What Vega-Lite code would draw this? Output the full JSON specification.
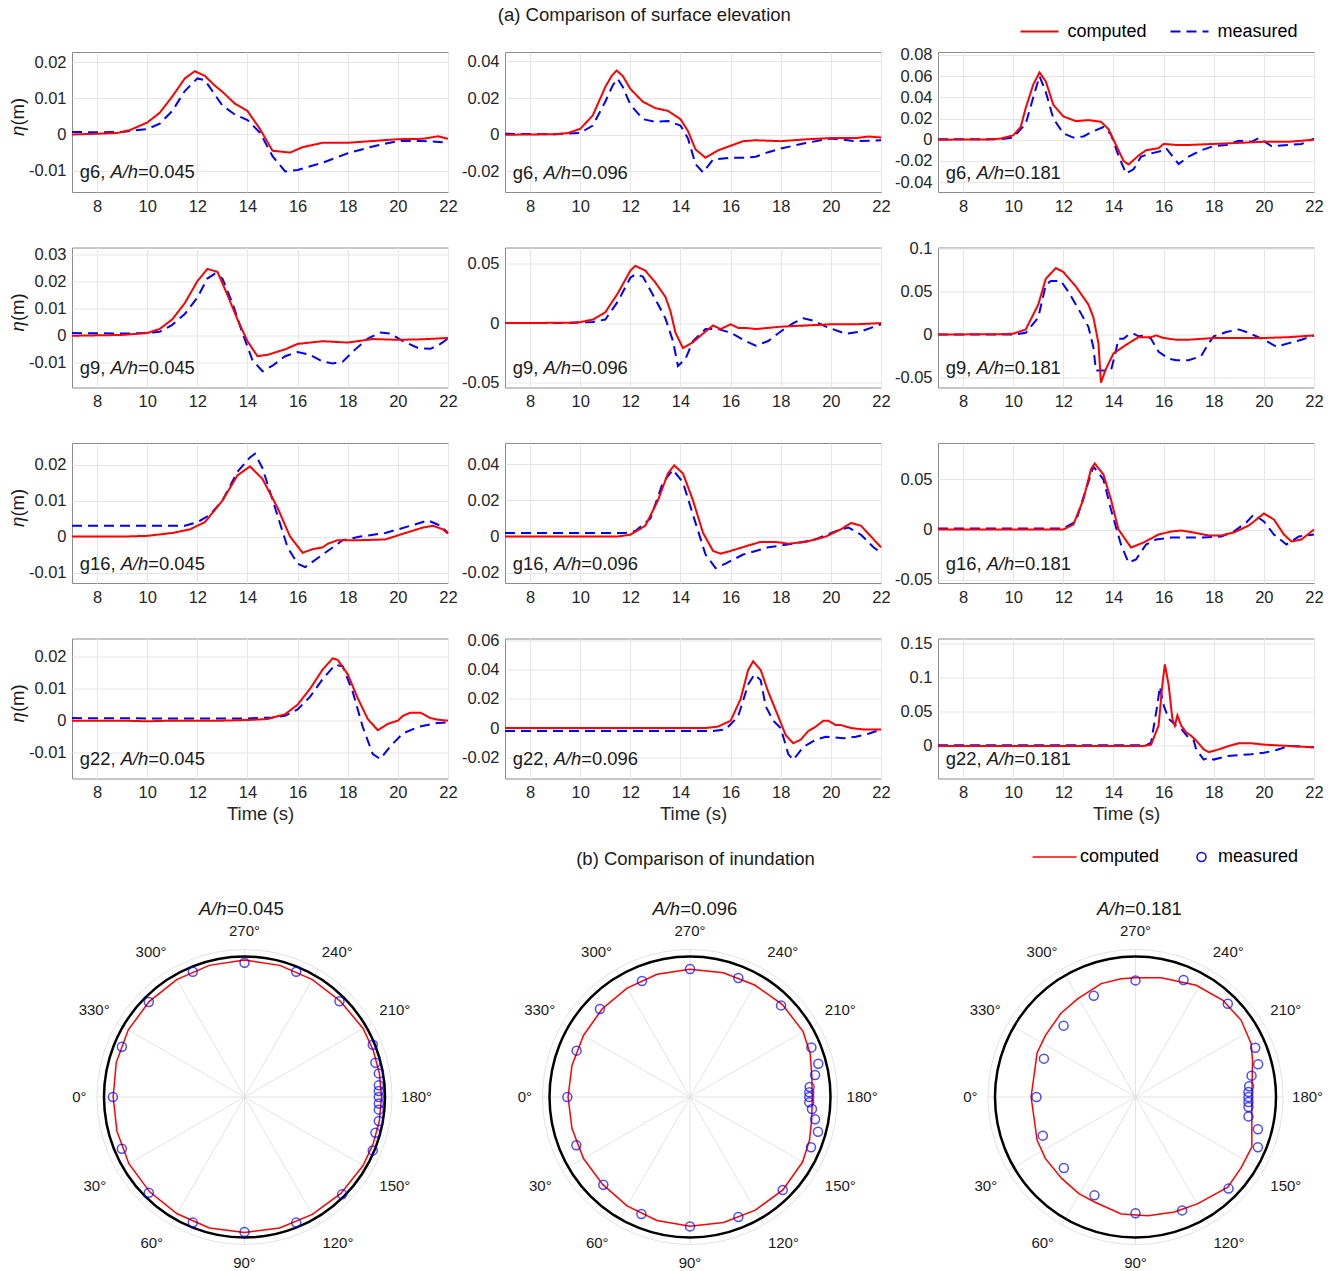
{
"$schema":"https://vega.github.io/schema/vega-lite/v6.json",
"padding":{"left":8,"top":5,"right":5,"bottom":0},
"background":"white",
"config":{
 "font":"Liberation Sans",
 "view":{"stroke":"#8c8c8c","strokeWidth":1},
 "axis":{"grid":true,"gridColor":"#e6e6e6","gridWidth":1,"domain":false,"ticks":false,"labelFontSize":16.5,"labelColor":"#262626","labelPadding":6,"labelFlush":false,"labelOverlap":false,"titleFontSize":18.5,"titleFontWeight":"normal","titleColor":"#262626","titlePadding":3},
 "text":{"color":"#1a1a1a"},
 "legend":{"labelFontSize":18,"labelColor":"#000000","padding":0}
},
"datasets":{
"p1c":[{"time":7,"eta":0},{"time":8,"eta":0.0002},{"time":8.8,"eta":0.0004},{"time":9.3,"eta":0.0012},{"time":10,"eta":0.0033},{"time":10.5,"eta":0.006},{"time":11,"eta":0.0105},{"time":11.5,"eta":0.0155},{"time":11.9,"eta":0.0175},{"time":12.3,"eta":0.0162},{"time":12.7,"eta":0.0135},{"time":13,"eta":0.0118},{"time":13.5,"eta":0.0085},{"time":14,"eta":0.0065},{"time":14.5,"eta":0.0015},{"time":15,"eta":-0.0045},{"time":15.7,"eta":-0.005},{"time":16.2,"eta":-0.0035},{"time":17,"eta":-0.0023},{"time":18,"eta":-0.0023},{"time":19,"eta":-0.0018},{"time":20,"eta":-0.0013},{"time":21,"eta":-0.0012},{"time":21.6,"eta":-0.0005},{"time":22,"eta":-0.0012}],
"p1m":[{"time":7,"eta":0.0007},{"time":8,"eta":0.0006},{"time":9,"eta":0.0007},{"time":10,"eta":0.0015},{"time":10.5,"eta":0.003},{"time":11,"eta":0.0065},{"time":11.5,"eta":0.012},{"time":12,"eta":0.0155},{"time":12.3,"eta":0.015},{"time":13,"eta":0.008},{"time":13.5,"eta":0.0055},{"time":14,"eta":0.004},{"time":14.5,"eta":0.0005},{"time":15,"eta":-0.006},{"time":15.5,"eta":-0.0102},{"time":16,"eta":-0.0098},{"time":17,"eta":-0.0078},{"time":18,"eta":-0.0052},{"time":19,"eta":-0.0033},{"time":20,"eta":-0.0018},{"time":21,"eta":-0.0018},{"time":22,"eta":-0.0022}],
"p2c":[{"time":7,"eta":0},{"time":9,"eta":0.0003},{"time":9.5,"eta":0.0009},{"time":10,"eta":0.0032},{"time":10.5,"eta":0.0105},{"time":11,"eta":0.026},{"time":11.25,"eta":0.032},{"time":11.45,"eta":0.035},{"time":11.7,"eta":0.032},{"time":12,"eta":0.025},{"time":12.5,"eta":0.018},{"time":13,"eta":0.0145},{"time":13.5,"eta":0.013},{"time":14,"eta":0.0085},{"time":14.3,"eta":0.002},{"time":14.6,"eta":-0.008},{"time":15,"eta":-0.0125},{"time":15.5,"eta":-0.0085},{"time":16,"eta":-0.006},{"time":16.5,"eta":-0.0035},{"time":17,"eta":-0.003},{"time":18,"eta":-0.0035},{"time":19,"eta":-0.0025},{"time":20,"eta":-0.0018},{"time":21,"eta":-0.0018},{"time":21.5,"eta":-0.001},{"time":22,"eta":-0.0015}],
"p2m":[{"time":7,"eta":0.0005},{"time":9,"eta":0.0003},{"time":10,"eta":0.001},{"time":10.5,"eta":0.005},{"time":11,"eta":0.018},{"time":11.3,"eta":0.027},{"time":11.5,"eta":0.0305},{"time":11.7,"eta":0.026},{"time":12,"eta":0.0165},{"time":12.5,"eta":0.0085},{"time":13,"eta":0.007},{"time":13.5,"eta":0.0075},{"time":14,"eta":0.005},{"time":14.3,"eta":-0.002},{"time":14.6,"eta":-0.016},{"time":14.9,"eta":-0.0205},{"time":15.3,"eta":-0.0135},{"time":16,"eta":-0.0125},{"time":16.5,"eta":-0.0125},{"time":17,"eta":-0.012},{"time":17.5,"eta":-0.0095},{"time":18,"eta":-0.0075},{"time":19,"eta":-0.0045},{"time":20,"eta":-0.002},{"time":21,"eta":-0.0035},{"time":22,"eta":-0.003}],
"p3c":[{"time":7,"eta":0},{"time":9,"eta":0.0002},{"time":9.5,"eta":0.001},{"time":10,"eta":0.004},{"time":10.3,"eta":0.012},{"time":10.5,"eta":0.03},{"time":10.8,"eta":0.052},{"time":11.05,"eta":0.0635},{"time":11.3,"eta":0.055},{"time":11.6,"eta":0.033},{"time":12,"eta":0.022},{"time":12.5,"eta":0.0175},{"time":13,"eta":0.0185},{"time":13.5,"eta":0.017},{"time":13.8,"eta":0.01},{"time":14.1,"eta":-0.005},{"time":14.4,"eta":-0.02},{"time":14.6,"eta":-0.0235},{"time":15,"eta":-0.015},{"time":15.3,"eta":-0.01},{"time":15.8,"eta":-0.008},{"time":16,"eta":-0.004},{"time":16.5,"eta":-0.005},{"time":17,"eta":-0.005},{"time":18,"eta":-0.004},{"time":19,"eta":-0.003},{"time":20,"eta":-0.002},{"time":21,"eta":-0.002},{"time":22,"eta":0}],
"p3m":[{"time":7,"eta":0.0003},{"time":9.5,"eta":0.0005},{"time":10,"eta":0.002},{"time":10.5,"eta":0.015},{"time":10.8,"eta":0.04},{"time":11.05,"eta":0.06},{"time":11.3,"eta":0.045},{"time":11.6,"eta":0.02},{"time":12,"eta":0.006},{"time":12.4,"eta":0.002},{"time":12.8,"eta":0.003},{"time":13.2,"eta":0.008},{"time":13.6,"eta":0.012},{"time":13.9,"eta":0.005},{"time":14.2,"eta":-0.015},{"time":14.5,"eta":-0.032},{"time":14.8,"eta":-0.028},{"time":15.1,"eta":-0.016},{"time":15.5,"eta":-0.013},{"time":16,"eta":-0.01},{"time":16.1,"eta":-0.008},{"time":16.6,"eta":-0.023},{"time":17,"eta":-0.016},{"time":17.5,"eta":-0.01},{"time":18,"eta":-0.006},{"time":18.5,"eta":-0.005},{"time":19,"eta":-0.001},{"time":19.5,"eta":-0.002},{"time":19.8,"eta":0.0015},{"time":20.3,"eta":-0.006},{"time":21,"eta":-0.005},{"time":21.5,"eta":-0.004},{"time":22,"eta":0.001}],
"p4c":[{"time":7,"eta":0},{"time":9,"eta":0.0003},{"time":10,"eta":0.001},{"time":10.5,"eta":0.0025},{"time":11,"eta":0.006},{"time":11.5,"eta":0.012},{"time":12,"eta":0.02},{"time":12.4,"eta":0.0245},{"time":12.6,"eta":0.024},{"time":12.8,"eta":0.0235},{"time":13.2,"eta":0.015},{"time":13.6,"eta":0.006},{"time":14,"eta":-0.002},{"time":14.4,"eta":-0.0075},{"time":14.8,"eta":-0.007},{"time":15.5,"eta":-0.005},{"time":16,"eta":-0.003},{"time":17,"eta":-0.002},{"time":18,"eta":-0.0025},{"time":19,"eta":-0.0012},{"time":20,"eta":-0.0015},{"time":21,"eta":-0.0013},{"time":22,"eta":-0.0008}],
"p4m":[{"time":7,"eta":0.001},{"time":9,"eta":0.0008},{"time":10,"eta":0.001},{"time":10.5,"eta":0.0015},{"time":11,"eta":0.004},{"time":11.5,"eta":0.008},{"time":12,"eta":0.014},{"time":12.4,"eta":0.021},{"time":12.7,"eta":0.0228},{"time":13,"eta":0.021},{"time":13.4,"eta":0.012},{"time":13.8,"eta":0.001},{"time":14.2,"eta":-0.009},{"time":14.6,"eta":-0.013},{"time":15,"eta":-0.011},{"time":15.5,"eta":-0.0075},{"time":16,"eta":-0.006},{"time":16.5,"eta":-0.007},{"time":17,"eta":-0.0095},{"time":17.4,"eta":-0.0102},{"time":17.8,"eta":-0.0095},{"time":18.3,"eta":-0.005},{"time":18.8,"eta":-0.001},{"time":19.3,"eta":0.0012},{"time":19.7,"eta":0.0008},{"time":20.2,"eta":-0.002},{"time":20.8,"eta":-0.0045},{"time":21.3,"eta":-0.0048},{"time":21.7,"eta":-0.003},{"time":22,"eta":-0.001}],
"p5c":[{"time":7,"eta":0},{"time":9.5,"eta":0.0003},{"time":10,"eta":0.0008},{"time":10.5,"eta":0.003},{"time":11,"eta":0.009},{"time":11.5,"eta":0.025},{"time":12,"eta":0.044},{"time":12.2,"eta":0.048},{"time":12.6,"eta":0.044},{"time":13,"eta":0.034},{"time":13.4,"eta":0.022},{"time":13.6,"eta":0.01},{"time":13.8,"eta":-0.008},{"time":14.1,"eta":-0.021},{"time":14.5,"eta":-0.016},{"time":15,"eta":-0.007},{"time":15.3,"eta":-0.002},{"time":15.6,"eta":-0.005},{"time":16,"eta":-0.001},{"time":16.3,"eta":-0.004},{"time":16.6,"eta":-0.004},{"time":17,"eta":-0.005},{"time":18,"eta":-0.003},{"time":19,"eta":-0.002},{"time":20,"eta":-0.001},{"time":21,"eta":-0.001},{"time":22,"eta":0}],
"p5m":[{"time":7,"eta":0},{"time":9.5,"eta":0},{"time":10,"eta":0.0005},{"time":10.5,"eta":0.001},{"time":11,"eta":0.003},{"time":11.5,"eta":0.018},{"time":12,"eta":0.038},{"time":12.2,"eta":0.041},{"time":12.5,"eta":0.039},{"time":13,"eta":0.02},{"time":13.4,"eta":0.004},{"time":13.7,"eta":-0.015},{"time":13.9,"eta":-0.036},{"time":14.2,"eta":-0.03},{"time":14.5,"eta":-0.015},{"time":15,"eta":-0.005},{"time":15.5,"eta":-0.005},{"time":16,"eta":-0.008},{"time":16.5,"eta":-0.014},{"time":17,"eta":-0.019},{"time":17.5,"eta":-0.015},{"time":18,"eta":-0.007},{"time":18.5,"eta":0},{"time":18.9,"eta":0.004},{"time":19.3,"eta":0.002},{"time":19.8,"eta":-0.003},{"time":20.6,"eta":-0.009},{"time":21.2,"eta":-0.007},{"time":22,"eta":-0.001}],
"p6c":[{"time":7,"eta":0},{"time":9.5,"eta":0.0005},{"time":10,"eta":0.001},{"time":10.5,"eta":0.006},{"time":11,"eta":0.035},{"time":11.3,"eta":0.065},{"time":11.7,"eta":0.0775},{"time":12,"eta":0.073},{"time":12.5,"eta":0.056},{"time":13,"eta":0.035},{"time":13.2,"eta":0.02},{"time":13.4,"eta":-0.01},{"time":13.5,"eta":-0.056},{"time":13.7,"eta":-0.04},{"time":14,"eta":-0.022},{"time":14.5,"eta":-0.012},{"time":15,"eta":-0.003},{"time":15.5,"eta":-0.003},{"time":15.7,"eta":-0.001},{"time":16,"eta":-0.004},{"time":16.5,"eta":-0.006},{"time":17,"eta":-0.006},{"time":18,"eta":-0.004},{"time":19,"eta":-0.004},{"time":20,"eta":-0.004},{"time":21,"eta":-0.003},{"time":21.5,"eta":-0.002},{"time":22,"eta":-0.001}],
"p6m":[{"time":7,"eta":0},{"time":10,"eta":0},{"time":10.5,"eta":0.002},{"time":11,"eta":0.02},{"time":11.3,"eta":0.058},{"time":11.5,"eta":0.0625},{"time":11.9,"eta":0.0625},{"time":12.2,"eta":0.05},{"time":12.6,"eta":0.03},{"time":13,"eta":0.009},{"time":13.2,"eta":-0.015},{"time":13.3,"eta":-0.042},{"time":13.9,"eta":-0.042},{"time":14.05,"eta":-0.025},{"time":14.2,"eta":-0.005},{"time":14.4,"eta":-0.005},{"time":14.6,"eta":0},{"time":14.8,"eta":0.001},{"time":15,"eta":-0.002},{"time":15.3,"eta":-0.001},{"time":15.5,"eta":-0.005},{"time":15.8,"eta":-0.02},{"time":16.2,"eta":-0.028},{"time":16.5,"eta":-0.03},{"time":17,"eta":-0.03},{"time":17.5,"eta":-0.025},{"time":17.8,"eta":-0.01},{"time":18,"eta":-0.002},{"time":18.5,"eta":0.003},{"time":19,"eta":0.006},{"time":19.4,"eta":0.002},{"time":20,"eta":-0.006},{"time":20.5,"eta":-0.014},{"time":21,"eta":-0.01},{"time":21.5,"eta":-0.006},{"time":22,"eta":-0.001}],
"p7c":[{"time":7,"eta":0},{"time":9,"eta":0},{"time":10,"eta":0.0002},{"time":11,"eta":0.001},{"time":11.7,"eta":0.002},{"time":12.3,"eta":0.004},{"time":13,"eta":0.01},{"time":13.6,"eta":0.017},{"time":14.1,"eta":0.0195},{"time":14.6,"eta":0.016},{"time":15.2,"eta":0.008},{"time":15.7,"eta":0},{"time":16.2,"eta":-0.0045},{"time":16.6,"eta":-0.0035},{"time":17,"eta":-0.003},{"time":17.2,"eta":-0.002},{"time":17.6,"eta":-0.001},{"time":18.5,"eta":-0.001},{"time":19.5,"eta":-0.0008},{"time":20.3,"eta":0.001},{"time":21,"eta":0.0025},{"time":21.4,"eta":0.003},{"time":21.8,"eta":0.002},{"time":22,"eta":0.0008}],
"p7m":[{"time":7,"eta":0.003},{"time":11.5,"eta":0.003},{"time":12,"eta":0.004},{"time":12.5,"eta":0.006},{"time":13,"eta":0.01},{"time":13.6,"eta":0.018},{"time":14.1,"eta":0.022},{"time":14.3,"eta":0.023},{"time":14.6,"eta":0.019},{"time":15.1,"eta":0.008},{"time":15.6,"eta":-0.003},{"time":16,"eta":-0.0075},{"time":16.3,"eta":-0.0085},{"time":17,"eta":-0.005},{"time":17.8,"eta":-0.001},{"time":18.5,"eta":0},{"time":19.5,"eta":0.001},{"time":20.5,"eta":0.003},{"time":21.2,"eta":0.0045},{"time":21.7,"eta":0.003},{"time":22,"eta":0.001}],
"p8c":[{"time":7,"eta":0},{"time":11.5,"eta":0},{"time":12,"eta":0.001},{"time":12.6,"eta":0.006},{"time":13.1,"eta":0.02},{"time":13.5,"eta":0.035},{"time":13.75,"eta":0.0395},{"time":14.1,"eta":0.035},{"time":14.5,"eta":0.02},{"time":14.9,"eta":0.002},{"time":15.3,"eta":-0.008},{"time":15.6,"eta":-0.0095},{"time":16,"eta":-0.008},{"time":16.7,"eta":-0.005},{"time":17.2,"eta":-0.003},{"time":17.8,"eta":-0.003},{"time":18.3,"eta":-0.004},{"time":19,"eta":-0.003},{"time":19.8,"eta":0},{"time":20.4,"eta":0.004},{"time":20.8,"eta":0.0075},{"time":21.2,"eta":0.006},{"time":21.6,"eta":0},{"time":22,"eta":-0.006}],
"p8m":[{"time":7,"eta":0.002},{"time":11.8,"eta":0.002},{"time":12.2,"eta":0.003},{"time":12.8,"eta":0.01},{"time":13.3,"eta":0.03},{"time":13.7,"eta":0.037},{"time":14.1,"eta":0.03},{"time":14.5,"eta":0.012},{"time":15,"eta":-0.01},{"time":15.4,"eta":-0.0175},{"time":15.8,"eta":-0.015},{"time":16.5,"eta":-0.01},{"time":17.5,"eta":-0.006},{"time":18.5,"eta":-0.004},{"time":19.3,"eta":-0.002},{"time":20.2,"eta":0.003},{"time":20.7,"eta":0.005},{"time":21.2,"eta":0.001},{"time":21.7,"eta":-0.006},{"time":22,"eta":-0.009}],
"p9c":[{"time":7,"eta":0},{"time":12,"eta":0},{"time":12.4,"eta":0.005},{"time":12.8,"eta":0.03},{"time":13.1,"eta":0.06},{"time":13.25,"eta":0.066},{"time":13.6,"eta":0.055},{"time":13.9,"eta":0.03},{"time":14.2,"eta":0},{"time":14.7,"eta":-0.018},{"time":15.2,"eta":-0.013},{"time":15.8,"eta":-0.005},{"time":16.3,"eta":-0.002},{"time":16.7,"eta":-0.001},{"time":17.2,"eta":-0.003},{"time":17.8,"eta":-0.006},{"time":18.3,"eta":-0.006},{"time":18.8,"eta":-0.003},{"time":19.4,"eta":0.004},{"time":19.8,"eta":0.012},{"time":20,"eta":0.016},{"time":20.4,"eta":0.01},{"time":20.8,"eta":-0.005},{"time":21.1,"eta":-0.012},{"time":21.5,"eta":-0.01},{"time":22,"eta":0}],
"p9m":[{"time":7,"eta":0.001},{"time":12,"eta":0.001},{"time":12.5,"eta":0.008},{"time":12.9,"eta":0.04},{"time":13.2,"eta":0.063},{"time":13.6,"eta":0.05},{"time":13.9,"eta":0.02},{"time":14.3,"eta":-0.015},{"time":14.6,"eta":-0.033},{"time":14.9,"eta":-0.03},{"time":15.3,"eta":-0.015},{"time":15.7,"eta":-0.01},{"time":16.3,"eta":-0.008},{"time":17,"eta":-0.008},{"time":17.6,"eta":-0.008},{"time":18.3,"eta":-0.007},{"time":18.8,"eta":-0.002},{"time":19.3,"eta":0.007},{"time":19.6,"eta":0.015},{"time":20,"eta":0.008},{"time":20.4,"eta":-0.005},{"time":20.9,"eta":-0.015},{"time":21.4,"eta":-0.007},{"time":22,"eta":-0.005}],
"p10c":[{"time":7,"eta":0},{"time":8,"eta":0},{"time":9,"eta":0},{"time":10,"eta":-0.0002},{"time":11,"eta":0},{"time":12,"eta":0},{"time":13,"eta":0},{"time":14,"eta":0.0002},{"time":14.8,"eta":0.0005},{"time":15.5,"eta":0.002},{"time":16,"eta":0.005},{"time":16.5,"eta":0.01},{"time":17,"eta":0.016},{"time":17.4,"eta":0.0195},{"time":17.6,"eta":0.019},{"time":18,"eta":0.0145},{"time":18.4,"eta":0.007},{"time":18.8,"eta":0.0005},{"time":19.2,"eta":-0.003},{"time":19.6,"eta":-0.001},{"time":20,"eta":0},{"time":20.2,"eta":0.0015},{"time":20.5,"eta":0.0025},{"time":20.9,"eta":0.0025},{"time":21.3,"eta":0.0008},{"time":21.6,"eta":0.0003},{"time":22,"eta":0}],
"p10m":[{"time":7,"eta":0.0008},{"time":10,"eta":0.0007},{"time":14,"eta":0.0007},{"time":15,"eta":0.001},{"time":15.5,"eta":0.0015},{"time":16,"eta":0.0035},{"time":16.5,"eta":0.0075},{"time":17,"eta":0.013},{"time":17.5,"eta":0.0175},{"time":17.8,"eta":0.017},{"time":18.2,"eta":0.009},{"time":18.6,"eta":-0.002},{"time":19,"eta":-0.0105},{"time":19.3,"eta":-0.012},{"time":19.7,"eta":-0.008},{"time":20.2,"eta":-0.004},{"time":20.8,"eta":-0.002},{"time":21.5,"eta":-0.0008},{"time":22,"eta":-0.0005}],
"p11c":[{"time":7,"eta":0},{"time":15,"eta":0},{"time":15.5,"eta":0.001},{"time":16,"eta":0.005},{"time":16.4,"eta":0.02},{"time":16.7,"eta":0.04},{"time":16.9,"eta":0.046},{"time":17.2,"eta":0.04},{"time":17.5,"eta":0.025},{"time":17.9,"eta":0.008},{"time":18.2,"eta":-0.005},{"time":18.5,"eta":-0.0105},{"time":18.8,"eta":-0.008},{"time":19.1,"eta":-0.002},{"time":19.4,"eta":0.001},{"time":19.7,"eta":0.005},{"time":19.9,"eta":0.005},{"time":20.2,"eta":0.002},{"time":20.4,"eta":0.002},{"time":20.8,"eta":0},{"time":21.3,"eta":-0.001},{"time":22,"eta":-0.001}],
"p11m":[{"time":7,"eta":-0.002},{"time":15.3,"eta":-0.002},{"time":15.8,"eta":-0.001},{"time":16.3,"eta":0.008},{"time":16.7,"eta":0.03},{"time":16.95,"eta":0.037},{"time":17.2,"eta":0.033},{"time":17.4,"eta":0.015},{"time":17.7,"eta":0.005},{"time":18,"eta":0},{"time":18.3,"eta":-0.018},{"time":18.5,"eta":-0.022},{"time":18.9,"eta":-0.013},{"time":19.4,"eta":-0.008},{"time":19.8,"eta":-0.006},{"time":20.5,"eta":-0.007},{"time":21,"eta":-0.006},{"time":21.5,"eta":-0.004},{"time":22,"eta":-0.001}],
"p12c":[{"time":7,"eta":0},{"time":15.2,"eta":0},{"time":15.5,"eta":0.002},{"time":15.8,"eta":0.03},{"time":15.95,"eta":0.09},{"time":16.05,"eta":0.12},{"time":16.2,"eta":0.09},{"time":16.35,"eta":0.04},{"time":16.45,"eta":0.03},{"time":16.55,"eta":0.045},{"time":16.7,"eta":0.03},{"time":16.9,"eta":0.02},{"time":17.1,"eta":0.015},{"time":17.3,"eta":0.008},{"time":17.6,"eta":-0.005},{"time":17.8,"eta":-0.009},{"time":18.2,"eta":-0.005},{"time":18.6,"eta":0},{"time":19,"eta":0.004},{"time":19.5,"eta":0.004},{"time":20,"eta":0.002},{"time":21,"eta":0},{"time":22,"eta":-0.002}],
"p12m":[{"time":7,"eta":0.001},{"time":15.3,"eta":0.001},{"time":15.5,"eta":0.005},{"time":15.75,"eta":0.06},{"time":15.85,"eta":0.087},{"time":16,"eta":0.06},{"time":16.2,"eta":0.04},{"time":16.5,"eta":0.03},{"time":16.7,"eta":0.025},{"time":17,"eta":0.012},{"time":17.2,"eta":0.008},{"time":17.3,"eta":-0.005},{"time":17.6,"eta":-0.02},{"time":17.8,"eta":-0.017},{"time":18,"eta":-0.02},{"time":18.5,"eta":-0.015},{"time":19.5,"eta":-0.012},{"time":20,"eta":-0.01},{"time":20.5,"eta":-0.006},{"time":21,"eta":0},{"time":22,"eta":-0.002}],
"spokes":[{"x":-1.05,"y":0,"x2":1.05,"y2":0},{"x":-0.9093,"y":-0.525,"x2":0.9093,"y2":0.525},{"x":-0.525,"y":-0.9093,"x2":0.525,"y2":0.9093},{"x":0,"y":-1.05,"x2":0,"y2":1.05},{"x":0.525,"y":-0.9093,"x2":-0.525,"y2":0.9093},{"x":0.9093,"y":-0.525,"x2":-0.9093,"y2":0.525}],
"angles":[{"label":"0°","x":-1.175,"y":0},{"label":"30°","x":-1.065,"y":-0.63},{"label":"60°","x":-0.66,"y":-1.04},{"label":"90°","x":0,"y":-1.18},{"label":"120°","x":0.665,"y":-1.04},{"label":"150°","x":1.07,"y":-0.63},{"label":"180°","x":1.225,"y":0},{"label":"210°","x":1.07,"y":0.62},{"label":"240°","x":0.66,"y":1.035},{"label":"270°","x":0,"y":1.18},{"label":"300°","x":-0.665,"y":1.035},{"label":"330°","x":-1.07,"y":0.62}],
"pol1":[{"series":"computed","x":-0.935,"y":0},{"series":"computed","x":-0.908,"y":-0.243},{"series":"computed","x":-0.823,"y":-0.475},{"series":"computed","x":-0.675,"y":-0.675},{"series":"computed","x":-0.48,"y":-0.831},{"series":"computed","x":-0.25,"y":-0.932},{"series":"computed","x":0,"y":-0.965},{"series":"computed","x":0.25,"y":-0.932},{"series":"computed","x":0.483,"y":-0.836},{"series":"computed","x":0.686,"y":-0.686},{"series":"computed","x":0.844,"y":-0.488},{"series":"computed","x":0.916,"y":-0.333},{"series":"computed","x":0.96,"y":-0.169},{"series":"computed","x":0.975,"y":0},{"series":"computed","x":0.96,"y":0.169},{"series":"computed","x":0.916,"y":0.333},{"series":"computed","x":0.844,"y":0.488},{"series":"computed","x":0.682,"y":0.682},{"series":"computed","x":0.483,"y":0.836},{"series":"computed","x":0.251,"y":0.937},{"series":"computed","x":0,"y":0.975},{"series":"computed","x":-0.251,"y":0.937},{"series":"computed","x":-0.483,"y":0.836},{"series":"computed","x":-0.679,"y":0.679},{"series":"computed","x":-0.827,"y":0.478},{"series":"computed","x":-0.913,"y":0.245},{"series":"computed","x":-0.935,"y":0},
{"series":"measured","x":0,"y":0.956},{"series":"measured","x":0.368,"y":0.892},{"series":"measured","x":0.676,"y":0.681},{"series":"measured","x":0.913,"y":0.372},{"series":"measured","x":0.932,"y":0.244},{"series":"measured","x":0.956,"y":0.168},{"series":"measured","x":0.956,"y":0.083},{"series":"measured","x":0.956,"y":0.043},{"series":"measured","x":0.956,"y":0},{"series":"measured","x":0.956,"y":-0.047},{"series":"measured","x":0.956,"y":-0.09},{"series":"measured","x":0.956,"y":-0.171},{"series":"measured","x":0.932,"y":-0.254},{"series":"measured","x":0.913,"y":-0.38},{"series":"measured","x":0.695,"y":-0.693},{"series":"measured","x":0.368,"y":-0.894},{"series":"measured","x":0,"y":-0.961},{"series":"measured","x":-0.368,"y":-0.894},{"series":"measured","x":-0.681,"y":-0.681},{"series":"measured","x":-0.873,"y":-0.368},{"series":"measured","x":-0.937,"y":0},{"series":"measured","x":-0.873,"y":0.358},{"series":"measured","x":-0.681,"y":0.676},{"series":"measured","x":-0.368,"y":0.892}],
"pol2":[{"series":"computed","x":-0.868,"y":0},{"series":"computed","x":-0.84,"y":-0.225},{"series":"computed","x":-0.758,"y":-0.438},{"series":"computed","x":-0.622,"y":-0.622},{"series":"computed","x":-0.448,"y":-0.775},{"series":"computed","x":-0.236,"y":-0.879},{"series":"computed","x":0,"y":-0.92},{"series":"computed","x":0.239,"y":-0.893},{"series":"computed","x":0.465,"y":-0.805},{"series":"computed","x":0.661,"y":-0.661},{"series":"computed","x":0.801,"y":-0.463},{"series":"computed","x":0.85,"y":-0.31},{"series":"computed","x":0.867,"y":-0.153},{"series":"computed","x":0.87,"y":0},{"series":"computed","x":0.867,"y":0.153},{"series":"computed","x":0.855,"y":0.311},{"series":"computed","x":0.805,"y":0.465},{"series":"computed","x":0.658,"y":0.658},{"series":"computed","x":0.46,"y":0.797},{"series":"computed","x":0.237,"y":0.884},{"series":"computed","x":0,"y":0.91},{"series":"computed","x":-0.234,"y":0.874},{"series":"computed","x":-0.448,"y":0.775},{"series":"computed","x":-0.626,"y":0.626},{"series":"computed","x":-0.758,"y":0.438},{"series":"computed","x":-0.84,"y":0.225},{"series":"computed","x":-0.868,"y":0},
{"series":"measured","x":0,"y":0.911},{"series":"measured","x":0.344,"y":0.847},{"series":"measured","x":0.648,"y":0.652},{"series":"measured","x":0.864,"y":0.353},{"series":"measured","x":0.913,"y":0.237},{"series":"measured","x":0.89,"y":0.157},{"series":"measured","x":0.852,"y":0.071},{"series":"measured","x":0.849,"y":0.033},{"series":"measured","x":0.849,"y":0},{"series":"measured","x":0.849,"y":-0.038},{"series":"measured","x":0.868,"y":-0.085},{"series":"measured","x":0.89,"y":-0.159},{"series":"measured","x":0.911,"y":-0.247},{"series":"measured","x":0.861,"y":-0.358},{"series":"measured","x":0.66,"y":-0.662},{"series":"measured","x":0.344,"y":-0.854},{"series":"measured","x":0,"y":-0.921},{"series":"measured","x":-0.346,"y":-0.833},{"series":"measured","x":-0.617,"y":-0.624},{"series":"measured","x":-0.809,"y":-0.344},{"series":"measured","x":-0.873,"y":0},{"series":"measured","x":-0.807,"y":0.33},{"series":"measured","x":-0.641,"y":0.626},{"series":"measured","x":-0.342,"y":0.826}],
"pol3":[{"series":"computed","x":0,"y":0.849},{"series":"computed","x":0.183,"y":0.849},{"series":"computed","x":0.432,"y":0.795},{"series":"computed","x":0.622,"y":0.688},{"series":"computed","x":0.752,"y":0.546},{"series":"computed","x":0.823,"y":0.38},{"series":"computed","x":0.833,"y":0.261},{"series":"computed","x":0.828,"y":0},{"series":"computed","x":0.828,"y":-0.356},{"series":"computed","x":0.752,"y":-0.503},{"series":"computed","x":0.657,"y":-0.641},{"series":"computed","x":0.444,"y":-0.759},{"series":"computed","x":0.278,"y":-0.819},{"series":"computed","x":0.088,"y":-0.845},{"series":"computed","x":-0.102,"y":-0.833},{"series":"computed","x":-0.292,"y":-0.747},{"series":"computed","x":-0.403,"y":-0.688},{"series":"computed","x":-0.524,"y":-0.581},{"series":"computed","x":-0.641,"y":-0.439},{"series":"computed","x":-0.7,"y":-0.308},{"series":"computed","x":-0.743,"y":0},{"series":"computed","x":-0.7,"y":0.316},{"series":"computed","x":-0.641,"y":0.439},{"series":"computed","x":-0.529,"y":0.598},{"series":"computed","x":-0.41,"y":0.7},{"series":"computed","x":-0.244,"y":0.807},{"series":"computed","x":-0.102,"y":0.842},{"series":"computed","x":0,"y":0.849},
{"series":"measured","x":0,"y":0.83},{"series":"measured","x":0.342,"y":0.833},{"series":"measured","x":0.657,"y":0.664},{"series":"measured","x":0.852,"y":0.351},{"series":"measured","x":0.873,"y":0.233},{"series":"measured","x":0.826,"y":0.152},{"series":"measured","x":0.809,"y":0.076},{"series":"measured","x":0.804,"y":0.036},{"series":"measured","x":0.804,"y":0},{"series":"measured","x":0.804,"y":-0.036},{"series":"measured","x":0.804,"y":-0.071},{"series":"measured","x":0.804,"y":-0.138},{"series":"measured","x":0.871,"y":-0.23},{"series":"measured","x":0.871,"y":-0.358},{"series":"measured","x":0.662,"y":-0.652},{"series":"measured","x":0.332,"y":-0.807},{"series":"measured","x":0,"y":-0.828},{"series":"measured","x":-0.292,"y":-0.7},{"series":"measured","x":-0.51,"y":-0.505},{"series":"measured","x":-0.66,"y":-0.275},{"series":"measured","x":-0.705,"y":0},{"series":"measured","x":-0.652,"y":0.273},{"series":"measured","x":-0.512,"y":0.508},{"series":"measured","x":-0.297,"y":0.721}]
},
"columns":3,
"spacing":{"row":55.5,"column":57},
"bounds":"flush",
"align":"each",
"resolve":{"scale":{"x":"independent","y":"independent","color":"shared","strokeDash":"shared","stroke":"shared"}},
"concat":[
{"width":376,"height":140,
 "layer":[
  {"data":{"name":"p1m"},"mark":{"type":"line","strokeWidth":2},"encoding":{"x":{"field":"time","type":"quantitative","scale":{"domain":[7,22],"nice":false,"zero":false},"axis":{"values":[8,10,12,14,16,18,20,22],"title":null,"labelOverlap":false}},"y":{"field":"eta","type":"quantitative","scale":{"domain":[-0.0159,0.0228],"nice":false,"zero":false},"axis":{"values":[-0.01,0,0.01,0.02],"title":null,"labelOverlap":false,"labelExpr":"toString(datum.value)"}},"color":{"datum":"measured","scale":{"domain":["computed","measured"],"range":["#ff0000","#0000ff"]},"legend":{"orient":"none","legendX":947.5,"legendY":-40.5,"direction":"horizontal","title":null,"symbolType":"stroke","symbolSize":1444,"symbolStrokeWidth":2,"labelOffset":8,"columnPadding":19}},"strokeDash":{"datum":"measured","scale":{"domain":["computed","measured"],"range":[[1,0],[10,6]]},"legend":{"orient":"none","legendX":947.5,"legendY":-40.5,"direction":"horizontal","title":null,"symbolType":"stroke","symbolSize":1444,"symbolStrokeWidth":2,"labelOffset":8,"columnPadding":19}}}},
  {"data":{"name":"p1c"},"mark":{"type":"line","strokeWidth":2},"encoding":{"x":{"field":"time","type":"quantitative","scale":{"domain":[7,22],"nice":false,"zero":false},"axis":{"values":[8,10,12,14,16,18,20,22],"title":null,"labelOverlap":false}},"y":{"field":"eta","type":"quantitative","scale":{"domain":[-0.0159,0.0228],"nice":false,"zero":false},"axis":{"values":[-0.01,0,0.01,0.02],"title":null,"labelOverlap":false,"labelExpr":"toString(datum.value)"}},"color":{"datum":"computed"},"strokeDash":{"datum":"computed"}}},
  {"data":{"values":[{}]},"mark":{"type":"text","text":"g6, ","align":"left","baseline":"middle","fontSize":18.4},"encoding":{"x":{"datum":7.31,"type":"quantitative"},"y":{"datum":-0.0105,"type":"quantitative","axis":{"values":[-0.01,0,0.01,0.02],"title":null,"labelOverlap":false,"labelExpr":"toString(datum.value)"}}}},
  {"data":{"values":[{}]},"mark":{"type":"text","text":"A/h","align":"left","baseline":"middle","fontSize":18.4,"fontStyle":"italic","dx":30.7},"encoding":{"x":{"datum":7.31,"type":"quantitative"},"y":{"datum":-0.0105,"type":"quantitative","axis":{"values":[-0.01,0,0.01,0.02],"title":null,"labelOverlap":false,"labelExpr":"toString(datum.value)"}}}},
  {"data":{"values":[{}]},"mark":{"type":"text","text":"=0.045","align":"left","baseline":"middle","fontSize":18.4,"dx":58.3},"encoding":{"x":{"datum":7.31,"type":"quantitative"},"y":{"datum":-0.0105,"type":"quantitative","axis":{"values":[-0.01,0,0.01,0.02],"title":null,"labelOverlap":false,"labelExpr":"toString(datum.value)"}}}},
  {"data":{"values":[{}]},"mark":{"type":"text","text":"η","align":"right","baseline":"middle","fontSize":18.5,"fontStyle":"italic","angle":270},"encoding":{"x":{"datum":4.826,"type":"quantitative"},"y":{"datum":0.00245,"type":"quantitative","axis":{"values":[-0.01,0,0.01,0.02],"title":null,"labelOverlap":false,"labelExpr":"toString(datum.value)"}}}},
  {"data":{"values":[{}]},"mark":{"type":"text","text":"(m)","align":"left","baseline":"middle","fontSize":18.5,"angle":270},"encoding":{"x":{"datum":4.826,"type":"quantitative"},"y":{"datum":0.00245,"type":"quantitative","axis":{"values":[-0.01,0,0.01,0.02],"title":null,"labelOverlap":false,"labelExpr":"toString(datum.value)"}}}}
 ]},
{"width":376,"height":140,
 "layer":[
  {"data":{"name":"p2m"},"mark":{"type":"line","strokeWidth":2},"encoding":{"x":{"field":"time","type":"quantitative","scale":{"domain":[7,22],"nice":false,"zero":false},"axis":{"values":[8,10,12,14,16,18,20,22],"title":null,"labelOverlap":false}},"y":{"field":"eta","type":"quantitative","scale":{"domain":[-0.0312,0.0451],"nice":false,"zero":false},"axis":{"values":[-0.02,0,0.02,0.04],"title":null,"labelOverlap":false,"labelExpr":"toString(datum.value)"}},"color":{"datum":"measured"},"strokeDash":{"datum":"measured"}}},
  {"data":{"name":"p2c"},"mark":{"type":"line","strokeWidth":2},"encoding":{"x":{"field":"time","type":"quantitative","scale":{"domain":[7,22],"nice":false,"zero":false},"axis":{"values":[8,10,12,14,16,18,20,22],"title":null,"labelOverlap":false}},"y":{"field":"eta","type":"quantitative","scale":{"domain":[-0.0312,0.0451],"nice":false,"zero":false},"axis":{"values":[-0.02,0,0.02,0.04],"title":null,"labelOverlap":false,"labelExpr":"toString(datum.value)"}},"color":{"datum":"computed"},"strokeDash":{"datum":"computed"}}},
  {"data":{"values":[{}]},"mark":{"type":"text","text":"g6, ","align":"left","baseline":"middle","fontSize":18.4},"encoding":{"x":{"datum":7.31,"type":"quantitative"},"y":{"datum":-0.0206,"type":"quantitative","axis":{"values":[-0.02,0,0.02,0.04],"title":null,"labelOverlap":false,"labelExpr":"toString(datum.value)"}}}},
  {"data":{"values":[{}]},"mark":{"type":"text","text":"A/h","align":"left","baseline":"middle","fontSize":18.4,"fontStyle":"italic","dx":30.7},"encoding":{"x":{"datum":7.31,"type":"quantitative"},"y":{"datum":-0.0206,"type":"quantitative","axis":{"values":[-0.02,0,0.02,0.04],"title":null,"labelOverlap":false,"labelExpr":"toString(datum.value)"}}}},
  {"data":{"values":[{}]},"mark":{"type":"text","text":"=0.096","align":"left","baseline":"middle","fontSize":18.4,"dx":58.3},"encoding":{"x":{"datum":7.31,"type":"quantitative"},"y":{"datum":-0.0206,"type":"quantitative","axis":{"values":[-0.02,0,0.02,0.04],"title":null,"labelOverlap":false,"labelExpr":"toString(datum.value)"}}}},
  {"data":{"values":[{}]},"mark":{"type":"text","text":"(a) Comparison of surface elevation","align":"center","baseline":"middle","fontSize":18.5},"encoding":{"x":{"datum":12.56,"type":"quantitative"},"y":{"datum":0.0655,"type":"quantitative","axis":{"values":[-0.02,0,0.02,0.04],"title":null,"labelOverlap":false,"labelExpr":"toString(datum.value)"}}}}
 ]},
{"width":376,"height":140,
 "layer":[
  {"data":{"name":"p3m"},"mark":{"type":"line","strokeWidth":2},"encoding":{"x":{"field":"time","type":"quantitative","scale":{"domain":[7,22],"nice":false,"zero":false},"axis":{"values":[8,10,12,14,16,18,20,22],"title":null,"labelOverlap":false}},"y":{"field":"eta","type":"quantitative","scale":{"domain":[-0.0494,0.0828],"nice":false,"zero":false},"axis":{"values":[-0.04,-0.02,0,0.02,0.04,0.06,0.08],"title":null,"labelOverlap":false,"labelExpr":"toString(datum.value)"}},"color":{"datum":"measured"},"strokeDash":{"datum":"measured"}}},
  {"data":{"name":"p3c"},"mark":{"type":"line","strokeWidth":2},"encoding":{"x":{"field":"time","type":"quantitative","scale":{"domain":[7,22],"nice":false,"zero":false},"axis":{"values":[8,10,12,14,16,18,20,22],"title":null,"labelOverlap":false}},"y":{"field":"eta","type":"quantitative","scale":{"domain":[-0.0494,0.0828],"nice":false,"zero":false},"axis":{"values":[-0.04,-0.02,0,0.02,0.04,0.06,0.08],"title":null,"labelOverlap":false,"labelExpr":"toString(datum.value)"}},"color":{"datum":"computed"},"strokeDash":{"datum":"computed"}}},
  {"data":{"values":[{}]},"mark":{"type":"text","text":"g6, ","align":"left","baseline":"middle","fontSize":18.4},"encoding":{"x":{"datum":7.31,"type":"quantitative"},"y":{"datum":-0.031,"type":"quantitative","axis":{"values":[-0.04,-0.02,0,0.02,0.04,0.06,0.08],"title":null,"labelOverlap":false,"labelExpr":"toString(datum.value)"}}}},
  {"data":{"values":[{}]},"mark":{"type":"text","text":"A/h","align":"left","baseline":"middle","fontSize":18.4,"fontStyle":"italic","dx":30.7},"encoding":{"x":{"datum":7.31,"type":"quantitative"},"y":{"datum":-0.031,"type":"quantitative","axis":{"values":[-0.04,-0.02,0,0.02,0.04,0.06,0.08],"title":null,"labelOverlap":false,"labelExpr":"toString(datum.value)"}}}},
  {"data":{"values":[{}]},"mark":{"type":"text","text":"=0.181","align":"left","baseline":"middle","fontSize":18.4,"dx":58.3},"encoding":{"x":{"datum":7.31,"type":"quantitative"},"y":{"datum":-0.031,"type":"quantitative","axis":{"values":[-0.04,-0.02,0,0.02,0.04,0.06,0.08],"title":null,"labelOverlap":false,"labelExpr":"toString(datum.value)"}}}}
 ]},
{"width":376,"height":140,
 "layer":[
  {"data":{"name":"p4m"},"mark":{"type":"line","strokeWidth":2},"encoding":{"x":{"field":"time","type":"quantitative","scale":{"domain":[7,22],"nice":false,"zero":false},"axis":{"values":[8,10,12,14,16,18,20,22],"title":null,"labelOverlap":false}},"y":{"field":"eta","type":"quantitative","scale":{"domain":[-0.019,0.0324],"nice":false,"zero":false},"axis":{"values":[-0.01,0,0.01,0.02,0.03],"title":null,"labelOverlap":false,"labelExpr":"toString(datum.value)"}},"color":{"datum":"measured"},"strokeDash":{"datum":"measured"}}},
  {"data":{"name":"p4c"},"mark":{"type":"line","strokeWidth":2},"encoding":{"x":{"field":"time","type":"quantitative","scale":{"domain":[7,22],"nice":false,"zero":false},"axis":{"values":[8,10,12,14,16,18,20,22],"title":null,"labelOverlap":false}},"y":{"field":"eta","type":"quantitative","scale":{"domain":[-0.019,0.0324],"nice":false,"zero":false},"axis":{"values":[-0.01,0,0.01,0.02,0.03],"title":null,"labelOverlap":false,"labelExpr":"toString(datum.value)"}},"color":{"datum":"computed"},"strokeDash":{"datum":"computed"}}},
  {"data":{"values":[{}]},"mark":{"type":"text","text":"g9, ","align":"left","baseline":"middle","fontSize":18.4},"encoding":{"x":{"datum":7.31,"type":"quantitative"},"y":{"datum":-0.0118,"type":"quantitative","axis":{"values":[-0.01,0,0.01,0.02,0.03],"title":null,"labelOverlap":false,"labelExpr":"toString(datum.value)"}}}},
  {"data":{"values":[{}]},"mark":{"type":"text","text":"A/h","align":"left","baseline":"middle","fontSize":18.4,"fontStyle":"italic","dx":30.7},"encoding":{"x":{"datum":7.31,"type":"quantitative"},"y":{"datum":-0.0118,"type":"quantitative","axis":{"values":[-0.01,0,0.01,0.02,0.03],"title":null,"labelOverlap":false,"labelExpr":"toString(datum.value)"}}}},
  {"data":{"values":[{}]},"mark":{"type":"text","text":"=0.045","align":"left","baseline":"middle","fontSize":18.4,"dx":58.3},"encoding":{"x":{"datum":7.31,"type":"quantitative"},"y":{"datum":-0.0118,"type":"quantitative","axis":{"values":[-0.01,0,0.01,0.02,0.03],"title":null,"labelOverlap":false,"labelExpr":"toString(datum.value)"}}}},
  {"data":{"values":[{}]},"mark":{"type":"text","text":"η","align":"right","baseline":"middle","fontSize":18.5,"fontStyle":"italic","angle":270},"encoding":{"x":{"datum":4.826,"type":"quantitative"},"y":{"datum":0.00538,"type":"quantitative","axis":{"values":[-0.01,0,0.01,0.02,0.03],"title":null,"labelOverlap":false,"labelExpr":"toString(datum.value)"}}}},
  {"data":{"values":[{}]},"mark":{"type":"text","text":"(m)","align":"left","baseline":"middle","fontSize":18.5,"angle":270},"encoding":{"x":{"datum":4.826,"type":"quantitative"},"y":{"datum":0.00538,"type":"quantitative","axis":{"values":[-0.01,0,0.01,0.02,0.03],"title":null,"labelOverlap":false,"labelExpr":"toString(datum.value)"}}}}
 ]},
{"width":376,"height":140,
 "layer":[
  {"data":{"name":"p5m"},"mark":{"type":"line","strokeWidth":2},"encoding":{"x":{"field":"time","type":"quantitative","scale":{"domain":[7,22],"nice":false,"zero":false},"axis":{"values":[8,10,12,14,16,18,20,22],"title":null,"labelOverlap":false}},"y":{"field":"eta","type":"quantitative","scale":{"domain":[-0.054,0.0634],"nice":false,"zero":false},"axis":{"values":[-0.05,0,0.05],"title":null,"labelOverlap":false,"labelExpr":"toString(datum.value)"}},"color":{"datum":"measured"},"strokeDash":{"datum":"measured"}}},
  {"data":{"name":"p5c"},"mark":{"type":"line","strokeWidth":2},"encoding":{"x":{"field":"time","type":"quantitative","scale":{"domain":[7,22],"nice":false,"zero":false},"axis":{"values":[8,10,12,14,16,18,20,22],"title":null,"labelOverlap":false}},"y":{"field":"eta","type":"quantitative","scale":{"domain":[-0.054,0.0634],"nice":false,"zero":false},"axis":{"values":[-0.05,0,0.05],"title":null,"labelOverlap":false,"labelExpr":"toString(datum.value)"}},"color":{"datum":"computed"},"strokeDash":{"datum":"computed"}}},
  {"data":{"values":[{}]},"mark":{"type":"text","text":"g9, ","align":"left","baseline":"middle","fontSize":18.4},"encoding":{"x":{"datum":7.31,"type":"quantitative"},"y":{"datum":-0.0377,"type":"quantitative","axis":{"values":[-0.05,0,0.05],"title":null,"labelOverlap":false,"labelExpr":"toString(datum.value)"}}}},
  {"data":{"values":[{}]},"mark":{"type":"text","text":"A/h","align":"left","baseline":"middle","fontSize":18.4,"fontStyle":"italic","dx":30.7},"encoding":{"x":{"datum":7.31,"type":"quantitative"},"y":{"datum":-0.0377,"type":"quantitative","axis":{"values":[-0.05,0,0.05],"title":null,"labelOverlap":false,"labelExpr":"toString(datum.value)"}}}},
  {"data":{"values":[{}]},"mark":{"type":"text","text":"=0.096","align":"left","baseline":"middle","fontSize":18.4,"dx":58.3},"encoding":{"x":{"datum":7.31,"type":"quantitative"},"y":{"datum":-0.0377,"type":"quantitative","axis":{"values":[-0.05,0,0.05],"title":null,"labelOverlap":false,"labelExpr":"toString(datum.value)"}}}}
 ]},
{"width":376,"height":140,
 "layer":[
  {"data":{"name":"p6m"},"mark":{"type":"line","strokeWidth":2},"encoding":{"x":{"field":"time","type":"quantitative","scale":{"domain":[7,22],"nice":false,"zero":false},"axis":{"values":[8,10,12,14,16,18,20,22],"title":null,"labelOverlap":false}},"y":{"field":"eta","type":"quantitative","scale":{"domain":[-0.0617,0.1015],"nice":false,"zero":false},"axis":{"values":[-0.05,0,0.05,0.1],"title":null,"labelOverlap":false,"labelExpr":"toString(datum.value)"}},"color":{"datum":"measured"},"strokeDash":{"datum":"measured"}}},
  {"data":{"name":"p6c"},"mark":{"type":"line","strokeWidth":2},"encoding":{"x":{"field":"time","type":"quantitative","scale":{"domain":[7,22],"nice":false,"zero":false},"axis":{"values":[8,10,12,14,16,18,20,22],"title":null,"labelOverlap":false}},"y":{"field":"eta","type":"quantitative","scale":{"domain":[-0.0617,0.1015],"nice":false,"zero":false},"axis":{"values":[-0.05,0,0.05,0.1],"title":null,"labelOverlap":false,"labelExpr":"toString(datum.value)"}},"color":{"datum":"computed"},"strokeDash":{"datum":"computed"}}},
  {"data":{"values":[{}]},"mark":{"type":"text","text":"g9, ","align":"left","baseline":"middle","fontSize":18.4},"encoding":{"x":{"datum":7.31,"type":"quantitative"},"y":{"datum":-0.039,"type":"quantitative","axis":{"values":[-0.05,0,0.05,0.1],"title":null,"labelOverlap":false,"labelExpr":"toString(datum.value)"}}}},
  {"data":{"values":[{}]},"mark":{"type":"text","text":"A/h","align":"left","baseline":"middle","fontSize":18.4,"fontStyle":"italic","dx":30.7},"encoding":{"x":{"datum":7.31,"type":"quantitative"},"y":{"datum":-0.039,"type":"quantitative","axis":{"values":[-0.05,0,0.05,0.1],"title":null,"labelOverlap":false,"labelExpr":"toString(datum.value)"}}}},
  {"data":{"values":[{}]},"mark":{"type":"text","text":"=0.181","align":"left","baseline":"middle","fontSize":18.4,"dx":58.3},"encoding":{"x":{"datum":7.31,"type":"quantitative"},"y":{"datum":-0.039,"type":"quantitative","axis":{"values":[-0.05,0,0.05,0.1],"title":null,"labelOverlap":false,"labelExpr":"toString(datum.value)"}}}}
 ]},
{"width":376,"height":140,
 "layer":[
  {"data":{"name":"p7m"},"mark":{"type":"line","strokeWidth":2},"encoding":{"x":{"field":"time","type":"quantitative","scale":{"domain":[7,22],"nice":false,"zero":false},"axis":{"values":[8,10,12,14,16,18,20,22],"title":null,"labelOverlap":false}},"y":{"field":"eta","type":"quantitative","scale":{"domain":[-0.0129,0.026],"nice":false,"zero":false},"axis":{"values":[-0.01,0,0.01,0.02],"title":null,"labelOverlap":false,"labelExpr":"toString(datum.value)"}},"color":{"datum":"measured"},"strokeDash":{"datum":"measured"}}},
  {"data":{"name":"p7c"},"mark":{"type":"line","strokeWidth":2},"encoding":{"x":{"field":"time","type":"quantitative","scale":{"domain":[7,22],"nice":false,"zero":false},"axis":{"values":[8,10,12,14,16,18,20,22],"title":null,"labelOverlap":false}},"y":{"field":"eta","type":"quantitative","scale":{"domain":[-0.0129,0.026],"nice":false,"zero":false},"axis":{"values":[-0.01,0,0.01,0.02],"title":null,"labelOverlap":false,"labelExpr":"toString(datum.value)"}},"color":{"datum":"computed"},"strokeDash":{"datum":"computed"}}},
  {"data":{"values":[{}]},"mark":{"type":"text","text":"g16, ","align":"left","baseline":"middle","fontSize":18.4},"encoding":{"x":{"datum":7.31,"type":"quantitative"},"y":{"datum":-0.0075,"type":"quantitative","axis":{"values":[-0.01,0,0.01,0.02],"title":null,"labelOverlap":false,"labelExpr":"toString(datum.value)"}}}},
  {"data":{"values":[{}]},"mark":{"type":"text","text":"A/h","align":"left","baseline":"middle","fontSize":18.4,"fontStyle":"italic","dx":40.9},"encoding":{"x":{"datum":7.31,"type":"quantitative"},"y":{"datum":-0.0075,"type":"quantitative","axis":{"values":[-0.01,0,0.01,0.02],"title":null,"labelOverlap":false,"labelExpr":"toString(datum.value)"}}}},
  {"data":{"values":[{}]},"mark":{"type":"text","text":"=0.045","align":"left","baseline":"middle","fontSize":18.4,"dx":68.5},"encoding":{"x":{"datum":7.31,"type":"quantitative"},"y":{"datum":-0.0075,"type":"quantitative","axis":{"values":[-0.01,0,0.01,0.02],"title":null,"labelOverlap":false,"labelExpr":"toString(datum.value)"}}}},
  {"data":{"values":[{}]},"mark":{"type":"text","text":"η","align":"right","baseline":"middle","fontSize":18.5,"fontStyle":"italic","angle":270},"encoding":{"x":{"datum":4.826,"type":"quantitative"},"y":{"datum":0.00555,"type":"quantitative","axis":{"values":[-0.01,0,0.01,0.02],"title":null,"labelOverlap":false,"labelExpr":"toString(datum.value)"}}}},
  {"data":{"values":[{}]},"mark":{"type":"text","text":"(m)","align":"left","baseline":"middle","fontSize":18.5,"angle":270},"encoding":{"x":{"datum":4.826,"type":"quantitative"},"y":{"datum":0.00555,"type":"quantitative","axis":{"values":[-0.01,0,0.01,0.02],"title":null,"labelOverlap":false,"labelExpr":"toString(datum.value)"}}}}
 ]},
{"width":376,"height":140,
 "layer":[
  {"data":{"name":"p8m"},"mark":{"type":"line","strokeWidth":2},"encoding":{"x":{"field":"time","type":"quantitative","scale":{"domain":[7,22],"nice":false,"zero":false},"axis":{"values":[8,10,12,14,16,18,20,22],"title":null,"labelOverlap":false}},"y":{"field":"eta","type":"quantitative","scale":{"domain":[-0.0258,0.0519],"nice":false,"zero":false},"axis":{"values":[-0.02,0,0.02,0.04],"title":null,"labelOverlap":false,"labelExpr":"toString(datum.value)"}},"color":{"datum":"measured"},"strokeDash":{"datum":"measured"}}},
  {"data":{"name":"p8c"},"mark":{"type":"line","strokeWidth":2},"encoding":{"x":{"field":"time","type":"quantitative","scale":{"domain":[7,22],"nice":false,"zero":false},"axis":{"values":[8,10,12,14,16,18,20,22],"title":null,"labelOverlap":false}},"y":{"field":"eta","type":"quantitative","scale":{"domain":[-0.0258,0.0519],"nice":false,"zero":false},"axis":{"values":[-0.02,0,0.02,0.04],"title":null,"labelOverlap":false,"labelExpr":"toString(datum.value)"}},"color":{"datum":"computed"},"strokeDash":{"datum":"computed"}}},
  {"data":{"values":[{}]},"mark":{"type":"text","text":"g16, ","align":"left","baseline":"middle","fontSize":18.4},"encoding":{"x":{"datum":7.31,"type":"quantitative"},"y":{"datum":-0.015,"type":"quantitative","axis":{"values":[-0.02,0,0.02,0.04],"title":null,"labelOverlap":false,"labelExpr":"toString(datum.value)"}}}},
  {"data":{"values":[{}]},"mark":{"type":"text","text":"A/h","align":"left","baseline":"middle","fontSize":18.4,"fontStyle":"italic","dx":40.9},"encoding":{"x":{"datum":7.31,"type":"quantitative"},"y":{"datum":-0.015,"type":"quantitative","axis":{"values":[-0.02,0,0.02,0.04],"title":null,"labelOverlap":false,"labelExpr":"toString(datum.value)"}}}},
  {"data":{"values":[{}]},"mark":{"type":"text","text":"=0.096","align":"left","baseline":"middle","fontSize":18.4,"dx":68.5},"encoding":{"x":{"datum":7.31,"type":"quantitative"},"y":{"datum":-0.015,"type":"quantitative","axis":{"values":[-0.02,0,0.02,0.04],"title":null,"labelOverlap":false,"labelExpr":"toString(datum.value)"}}}}
 ]},
{"width":376,"height":140,
 "layer":[
  {"data":{"name":"p9m"},"mark":{"type":"line","strokeWidth":2},"encoding":{"x":{"field":"time","type":"quantitative","scale":{"domain":[7,22],"nice":false,"zero":false},"axis":{"values":[8,10,12,14,16,18,20,22],"title":null,"labelOverlap":false}},"y":{"field":"eta","type":"quantitative","scale":{"domain":[-0.0535,0.0865],"nice":false,"zero":false},"axis":{"values":[-0.05,0,0.05],"title":null,"labelOverlap":false,"labelExpr":"toString(datum.value)"}},"color":{"datum":"measured"},"strokeDash":{"datum":"measured"}}},
  {"data":{"name":"p9c"},"mark":{"type":"line","strokeWidth":2},"encoding":{"x":{"field":"time","type":"quantitative","scale":{"domain":[7,22],"nice":false,"zero":false},"axis":{"values":[8,10,12,14,16,18,20,22],"title":null,"labelOverlap":false}},"y":{"field":"eta","type":"quantitative","scale":{"domain":[-0.0535,0.0865],"nice":false,"zero":false},"axis":{"values":[-0.05,0,0.05],"title":null,"labelOverlap":false,"labelExpr":"toString(datum.value)"}},"color":{"datum":"computed"},"strokeDash":{"datum":"computed"}}},
  {"data":{"values":[{}]},"mark":{"type":"text","text":"g16, ","align":"left","baseline":"middle","fontSize":18.4},"encoding":{"x":{"datum":7.31,"type":"quantitative"},"y":{"datum":-0.034,"type":"quantitative","axis":{"values":[-0.05,0,0.05],"title":null,"labelOverlap":false,"labelExpr":"toString(datum.value)"}}}},
  {"data":{"values":[{}]},"mark":{"type":"text","text":"A/h","align":"left","baseline":"middle","fontSize":18.4,"fontStyle":"italic","dx":40.9},"encoding":{"x":{"datum":7.31,"type":"quantitative"},"y":{"datum":-0.034,"type":"quantitative","axis":{"values":[-0.05,0,0.05],"title":null,"labelOverlap":false,"labelExpr":"toString(datum.value)"}}}},
  {"data":{"values":[{}]},"mark":{"type":"text","text":"=0.181","align":"left","baseline":"middle","fontSize":18.4,"dx":68.5},"encoding":{"x":{"datum":7.31,"type":"quantitative"},"y":{"datum":-0.034,"type":"quantitative","axis":{"values":[-0.05,0,0.05],"title":null,"labelOverlap":false,"labelExpr":"toString(datum.value)"}}}}
 ]},
{"width":376,"height":140,
 "layer":[
  {"data":{"name":"p10m"},"mark":{"type":"line","strokeWidth":2},"encoding":{"x":{"field":"time","type":"quantitative","scale":{"domain":[7,22],"nice":false,"zero":false},"axis":{"values":[8,10,12,14,16,18,20,22],"title":"Time (s)","labelOverlap":false}},"y":{"field":"eta","type":"quantitative","scale":{"domain":[-0.0181,0.0257],"nice":false,"zero":false},"axis":{"values":[-0.01,0,0.01,0.02],"title":null,"labelOverlap":false,"labelExpr":"toString(datum.value)"}},"color":{"datum":"measured"},"strokeDash":{"datum":"measured"}}},
  {"data":{"name":"p10c"},"mark":{"type":"line","strokeWidth":2},"encoding":{"x":{"field":"time","type":"quantitative","scale":{"domain":[7,22],"nice":false,"zero":false},"axis":{"values":[8,10,12,14,16,18,20,22],"title":"Time (s)","labelOverlap":false}},"y":{"field":"eta","type":"quantitative","scale":{"domain":[-0.0181,0.0257],"nice":false,"zero":false},"axis":{"values":[-0.01,0,0.01,0.02],"title":null,"labelOverlap":false,"labelExpr":"toString(datum.value)"}},"color":{"datum":"computed"},"strokeDash":{"datum":"computed"}}},
  {"data":{"values":[{}]},"mark":{"type":"text","text":"g22, ","align":"left","baseline":"middle","fontSize":18.4},"encoding":{"x":{"datum":7.31,"type":"quantitative"},"y":{"datum":-0.012,"type":"quantitative","axis":{"values":[-0.01,0,0.01,0.02],"title":null,"labelOverlap":false,"labelExpr":"toString(datum.value)"}}}},
  {"data":{"values":[{}]},"mark":{"type":"text","text":"A/h","align":"left","baseline":"middle","fontSize":18.4,"fontStyle":"italic","dx":40.9},"encoding":{"x":{"datum":7.31,"type":"quantitative"},"y":{"datum":-0.012,"type":"quantitative","axis":{"values":[-0.01,0,0.01,0.02],"title":null,"labelOverlap":false,"labelExpr":"toString(datum.value)"}}}},
  {"data":{"values":[{}]},"mark":{"type":"text","text":"=0.045","align":"left","baseline":"middle","fontSize":18.4,"dx":68.5},"encoding":{"x":{"datum":7.31,"type":"quantitative"},"y":{"datum":-0.012,"type":"quantitative","axis":{"values":[-0.01,0,0.01,0.02],"title":null,"labelOverlap":false,"labelExpr":"toString(datum.value)"}}}},
  {"data":{"values":[{}]},"mark":{"type":"text","text":"η","align":"right","baseline":"middle","fontSize":18.5,"fontStyle":"italic","angle":270},"encoding":{"x":{"datum":4.826,"type":"quantitative"},"y":{"datum":0.00267,"type":"quantitative","axis":{"values":[-0.01,0,0.01,0.02],"title":null,"labelOverlap":false,"labelExpr":"toString(datum.value)"}}}},
  {"data":{"values":[{}]},"mark":{"type":"text","text":"(m)","align":"left","baseline":"middle","fontSize":18.5,"angle":270},"encoding":{"x":{"datum":4.826,"type":"quantitative"},"y":{"datum":0.00267,"type":"quantitative","axis":{"values":[-0.01,0,0.01,0.02],"title":null,"labelOverlap":false,"labelExpr":"toString(datum.value)"}}}}
 ]},
{"width":376,"height":140,
 "layer":[
  {"data":{"name":"p11m"},"mark":{"type":"line","strokeWidth":2},"encoding":{"x":{"field":"time","type":"quantitative","scale":{"domain":[7,22],"nice":false,"zero":false},"axis":{"values":[8,10,12,14,16,18,20,22],"title":"Time (s)","labelOverlap":false}},"y":{"field":"eta","type":"quantitative","scale":{"domain":[-0.0348,0.0617],"nice":false,"zero":false},"axis":{"values":[-0.02,0,0.02,0.04,0.06],"title":null,"labelOverlap":false,"labelExpr":"toString(datum.value)"}},"color":{"datum":"measured"},"strokeDash":{"datum":"measured"}}},
  {"data":{"name":"p11c"},"mark":{"type":"line","strokeWidth":2},"encoding":{"x":{"field":"time","type":"quantitative","scale":{"domain":[7,22],"nice":false,"zero":false},"axis":{"values":[8,10,12,14,16,18,20,22],"title":"Time (s)","labelOverlap":false}},"y":{"field":"eta","type":"quantitative","scale":{"domain":[-0.0348,0.0617],"nice":false,"zero":false},"axis":{"values":[-0.02,0,0.02,0.04,0.06],"title":null,"labelOverlap":false,"labelExpr":"toString(datum.value)"}},"color":{"datum":"computed"},"strokeDash":{"datum":"computed"}}},
  {"data":{"values":[{}]},"mark":{"type":"text","text":"g22, ","align":"left","baseline":"middle","fontSize":18.4},"encoding":{"x":{"datum":7.31,"type":"quantitative"},"y":{"datum":-0.0214,"type":"quantitative","axis":{"values":[-0.02,0,0.02,0.04,0.06],"title":null,"labelOverlap":false,"labelExpr":"toString(datum.value)"}}}},
  {"data":{"values":[{}]},"mark":{"type":"text","text":"A/h","align":"left","baseline":"middle","fontSize":18.4,"fontStyle":"italic","dx":40.9},"encoding":{"x":{"datum":7.31,"type":"quantitative"},"y":{"datum":-0.0214,"type":"quantitative","axis":{"values":[-0.02,0,0.02,0.04,0.06],"title":null,"labelOverlap":false,"labelExpr":"toString(datum.value)"}}}},
  {"data":{"values":[{}]},"mark":{"type":"text","text":"=0.096","align":"left","baseline":"middle","fontSize":18.4,"dx":68.5},"encoding":{"x":{"datum":7.31,"type":"quantitative"},"y":{"datum":-0.0214,"type":"quantitative","axis":{"values":[-0.02,0,0.02,0.04,0.06],"title":null,"labelOverlap":false,"labelExpr":"toString(datum.value)"}}}}
 ]},
{"width":376,"height":140,
 "layer":[
  {"data":{"name":"p12m"},"mark":{"type":"line","strokeWidth":2},"encoding":{"x":{"field":"time","type":"quantitative","scale":{"domain":[7,22],"nice":false,"zero":false},"axis":{"values":[8,10,12,14,16,18,20,22],"title":"Time (s)","labelOverlap":false}},"y":{"field":"eta","type":"quantitative","scale":{"domain":[-0.0478,0.158],"nice":false,"zero":false},"axis":{"values":[0,0.05,0.1,0.15],"title":null,"labelOverlap":false,"labelExpr":"toString(datum.value)"}},"color":{"datum":"measured"},"strokeDash":{"datum":"measured"}}},
  {"data":{"name":"p12c"},"mark":{"type":"line","strokeWidth":2},"encoding":{"x":{"field":"time","type":"quantitative","scale":{"domain":[7,22],"nice":false,"zero":false},"axis":{"values":[8,10,12,14,16,18,20,22],"title":"Time (s)","labelOverlap":false}},"y":{"field":"eta","type":"quantitative","scale":{"domain":[-0.0478,0.158],"nice":false,"zero":false},"axis":{"values":[0,0.05,0.1,0.15],"title":null,"labelOverlap":false,"labelExpr":"toString(datum.value)"}},"color":{"datum":"computed"},"strokeDash":{"datum":"computed"}}},
  {"data":{"values":[{}]},"mark":{"type":"text","text":"g22, ","align":"left","baseline":"middle","fontSize":18.4},"encoding":{"x":{"datum":7.31,"type":"quantitative"},"y":{"datum":-0.0191,"type":"quantitative","axis":{"values":[0,0.05,0.1,0.15],"title":null,"labelOverlap":false,"labelExpr":"toString(datum.value)"}}}},
  {"data":{"values":[{}]},"mark":{"type":"text","text":"A/h","align":"left","baseline":"middle","fontSize":18.4,"fontStyle":"italic","dx":40.9},"encoding":{"x":{"datum":7.31,"type":"quantitative"},"y":{"datum":-0.0191,"type":"quantitative","axis":{"values":[0,0.05,0.1,0.15],"title":null,"labelOverlap":false,"labelExpr":"toString(datum.value)"}}}},
  {"data":{"values":[{}]},"mark":{"type":"text","text":"=0.181","align":"left","baseline":"middle","fontSize":18.4,"dx":68.5},"encoding":{"x":{"datum":7.31,"type":"quantitative"},"y":{"datum":-0.0191,"type":"quantitative","axis":{"values":[0,0.05,0.1,0.15],"title":null,"labelOverlap":false,"labelExpr":"toString(datum.value)"}}}}
 ]},
{"width":376,"height":430,"view":{"stroke":null},
 "layer":[
  {"data":{"name":"spokes"},"mark":{"type":"rule","color":"#e3e3e3","strokeWidth":1},"encoding":{"x":{"field":"x","type":"quantitative","scale":{"domain":[-1.2278,1.4484],"nice":false,"zero":false},"axis":null},"y":{"field":"y","type":"quantitative","scale":{"domain":[-1.1886,1.8719],"nice":false,"zero":false},"axis":null},"x2":{"field":"x2"},"y2":{"field":"y2"}}},
  {"data":{"values":[{}]},"mark":{"type":"arc","radius":147.5,"theta":0,"theta2":6.2832,"filled":false,"stroke":"#e3e3e3","strokeWidth":1},"encoding":{"x":{"datum":0,"type":"quantitative","axis":null},"y":{"datum":0,"type":"quantitative","axis":null}}},
  {"data":{"values":[{}]},"mark":{"type":"arc","radius":140.5,"theta":0,"theta2":6.2832,"filled":false,"stroke":"#000000","strokeWidth":2.5},"encoding":{"x":{"datum":0,"type":"quantitative","axis":null},"y":{"datum":0,"type":"quantitative","axis":null}}},
  {"data":{"name":"pol1"},"transform":[{"filter":"datum.series === 'computed'"}],"mark":{"type":"line","strokeWidth":1.5},"encoding":{"x":{"field":"x","type":"quantitative","scale":{"domain":[-1.2278,1.4484],"nice":false,"zero":false},"axis":null},"y":{"field":"y","type":"quantitative","scale":{"domain":[-1.1886,1.8719],"nice":false,"zero":false},"axis":null},"order":{"value":null},"stroke":{"field":"series","type":"nominal","scale":{"range":["#ff0000","#0000ff"]},"legend":{"orient":"none","legendX":960.5,"legendY":796,"direction":"horizontal","title":null,"symbolSize":100,"labelOffset":29.5,"columnPadding":11,"encode":{"symbols":{"update":{"shape":{"signal":"datum.value === 'computed' ? 'stroke' : 'circle'"},"size":{"signal":"datum.value === 'computed' ? 1936 : 81"},"x":{"signal":"datum.value === 'computed' ? 22 : 31"},"fill":{"value":"transparent"},"strokeWidth":{"value":1.5}}}}}}}},
  {"data":{"name":"pol1"},"transform":[{"filter":"datum.series === 'measured'"}],"mark":{"type":"point","shape":"circle","filled":false,"size":81,"strokeWidth":1.5},"encoding":{"x":{"field":"x","type":"quantitative","scale":{"domain":[-1.2278,1.4484],"nice":false,"zero":false},"axis":null},"y":{"field":"y","type":"quantitative","scale":{"domain":[-1.1886,1.8719],"nice":false,"zero":false},"axis":null},"stroke":{"field":"series","type":"nominal"}}},
  {"data":{"name":"angles"},"mark":{"type":"text","fontSize":15,"align":"center","baseline":"middle"},"encoding":{"x":{"field":"x","type":"quantitative","scale":{"domain":[-1.2278,1.4484],"nice":false,"zero":false},"axis":null},"y":{"field":"y","type":"quantitative","scale":{"domain":[-1.1886,1.8719],"nice":false,"zero":false},"axis":null},"text":{"field":"label"}}},
  {"data":{"values":[{}]},"mark":{"type":"text","text":"A/h","align":"right","baseline":"middle","fontSize":18.5,"fontStyle":"italic"},"encoding":{"x":{"datum":-0.127,"type":"quantitative","axis":null},"y":{"datum":1.338,"type":"quantitative","axis":null}}},
  {"data":{"values":[{}]},"mark":{"type":"text","text":"=0.045","align":"left","baseline":"middle","fontSize":18.5},"encoding":{"x":{"datum":-0.127,"type":"quantitative","axis":null},"y":{"datum":1.338,"type":"quantitative","axis":null}}}
 ]},
{"width":376,"height":430,"view":{"stroke":null},
 "layer":[
  {"data":{"name":"spokes"},"mark":{"type":"rule","color":"#e3e3e3","strokeWidth":1},"encoding":{"x":{"field":"x","type":"quantitative","scale":{"domain":[-1.3167,1.3594],"nice":false,"zero":false},"axis":null},"y":{"field":"y","type":"quantitative","scale":{"domain":[-1.1886,1.8719],"nice":false,"zero":false},"axis":null},"x2":{"field":"x2"},"y2":{"field":"y2"}}},
  {"data":{"values":[{}]},"mark":{"type":"arc","radius":147.5,"theta":0,"theta2":6.2832,"filled":false,"stroke":"#e3e3e3","strokeWidth":1},"encoding":{"x":{"datum":0,"type":"quantitative","axis":null},"y":{"datum":0,"type":"quantitative","axis":null}}},
  {"data":{"values":[{}]},"mark":{"type":"arc","radius":140.5,"theta":0,"theta2":6.2832,"filled":false,"stroke":"#000000","strokeWidth":2.5},"encoding":{"x":{"datum":0,"type":"quantitative","axis":null},"y":{"datum":0,"type":"quantitative","axis":null}}},
  {"data":{"name":"pol2"},"transform":[{"filter":"datum.series === 'computed'"}],"mark":{"type":"line","strokeWidth":1.5},"encoding":{"x":{"field":"x","type":"quantitative","scale":{"domain":[-1.3167,1.3594],"nice":false,"zero":false},"axis":null},"y":{"field":"y","type":"quantitative","scale":{"domain":[-1.1886,1.8719],"nice":false,"zero":false},"axis":null},"order":{"value":null},"stroke":{"field":"series","type":"nominal"}}},
  {"data":{"name":"pol2"},"transform":[{"filter":"datum.series === 'measured'"}],"mark":{"type":"point","shape":"circle","filled":false,"size":81,"strokeWidth":1.5},"encoding":{"x":{"field":"x","type":"quantitative","scale":{"domain":[-1.3167,1.3594],"nice":false,"zero":false},"axis":null},"y":{"field":"y","type":"quantitative","scale":{"domain":[-1.1886,1.8719],"nice":false,"zero":false},"axis":null},"stroke":{"field":"series","type":"nominal"}}},
  {"data":{"name":"angles"},"mark":{"type":"text","fontSize":15,"align":"center","baseline":"middle"},"encoding":{"x":{"field":"x","type":"quantitative","scale":{"domain":[-1.3167,1.3594],"nice":false,"zero":false},"axis":null},"y":{"field":"y","type":"quantitative","scale":{"domain":[-1.1886,1.8719],"nice":false,"zero":false},"axis":null},"text":{"field":"label"}}},
  {"data":{"values":[{}]},"mark":{"type":"text","text":"A/h","align":"right","baseline":"middle","fontSize":18.5,"fontStyle":"italic"},"encoding":{"x":{"datum":-0.07,"type":"quantitative","axis":null},"y":{"datum":1.338,"type":"quantitative","axis":null}}},
  {"data":{"values":[{}]},"mark":{"type":"text","text":"=0.096","align":"left","baseline":"middle","fontSize":18.5},"encoding":{"x":{"datum":-0.07,"type":"quantitative","axis":null},"y":{"datum":1.338,"type":"quantitative","axis":null}}},
  {"data":{"values":[{}]},"mark":{"type":"text","text":"(b) Comparison of inundation","align":"center","baseline":"middle","fontSize":18.5},"encoding":{"x":{"datum":0.039,"type":"quantitative","axis":null},"y":{"datum":1.694,"type":"quantitative","axis":null}}}
 ]},
{"width":376,"height":430,"view":{"stroke":null},
 "layer":[
  {"data":{"name":"spokes"},"mark":{"type":"rule","color":"#e3e3e3","strokeWidth":1},"encoding":{"x":{"field":"x","type":"quantitative","scale":{"domain":[-1.4057,1.2705],"nice":false,"zero":false},"axis":null},"y":{"field":"y","type":"quantitative","scale":{"domain":[-1.1886,1.8719],"nice":false,"zero":false},"axis":null},"x2":{"field":"x2"},"y2":{"field":"y2"}}},
  {"data":{"values":[{}]},"mark":{"type":"arc","radius":147.5,"theta":0,"theta2":6.2832,"filled":false,"stroke":"#e3e3e3","strokeWidth":1},"encoding":{"x":{"datum":0,"type":"quantitative","axis":null},"y":{"datum":0,"type":"quantitative","axis":null}}},
  {"data":{"values":[{}]},"mark":{"type":"arc","radius":140.5,"theta":0,"theta2":6.2832,"filled":false,"stroke":"#000000","strokeWidth":2.5},"encoding":{"x":{"datum":0,"type":"quantitative","axis":null},"y":{"datum":0,"type":"quantitative","axis":null}}},
  {"data":{"name":"pol3"},"transform":[{"filter":"datum.series === 'computed'"}],"mark":{"type":"line","strokeWidth":1.5},"encoding":{"x":{"field":"x","type":"quantitative","scale":{"domain":[-1.4057,1.2705],"nice":false,"zero":false},"axis":null},"y":{"field":"y","type":"quantitative","scale":{"domain":[-1.1886,1.8719],"nice":false,"zero":false},"axis":null},"order":{"value":null},"stroke":{"field":"series","type":"nominal"}}},
  {"data":{"name":"pol3"},"transform":[{"filter":"datum.series === 'measured'"}],"mark":{"type":"point","shape":"circle","filled":false,"size":81,"strokeWidth":1.5},"encoding":{"x":{"field":"x","type":"quantitative","scale":{"domain":[-1.4057,1.2705],"nice":false,"zero":false},"axis":null},"y":{"field":"y","type":"quantitative","scale":{"domain":[-1.1886,1.8719],"nice":false,"zero":false},"axis":null},"stroke":{"field":"series","type":"nominal"}}},
  {"data":{"name":"angles"},"mark":{"type":"text","fontSize":15,"align":"center","baseline":"middle"},"encoding":{"x":{"field":"x","type":"quantitative","scale":{"domain":[-1.4057,1.2705],"nice":false,"zero":false},"axis":null},"y":{"field":"y","type":"quantitative","scale":{"domain":[-1.1886,1.8719],"nice":false,"zero":false},"axis":null},"text":{"field":"label"}}},
  {"data":{"values":[{}]},"mark":{"type":"text","text":"A/h","align":"right","baseline":"middle","fontSize":18.5,"fontStyle":"italic"},"encoding":{"x":{"datum":-0.077,"type":"quantitative","axis":null},"y":{"datum":1.338,"type":"quantitative","axis":null}}},
  {"data":{"values":[{}]},"mark":{"type":"text","text":"=0.181","align":"left","baseline":"middle","fontSize":18.5},"encoding":{"x":{"datum":-0.077,"type":"quantitative","axis":null},"y":{"datum":1.338,"type":"quantitative","axis":null}}}
 ]}
]
}
